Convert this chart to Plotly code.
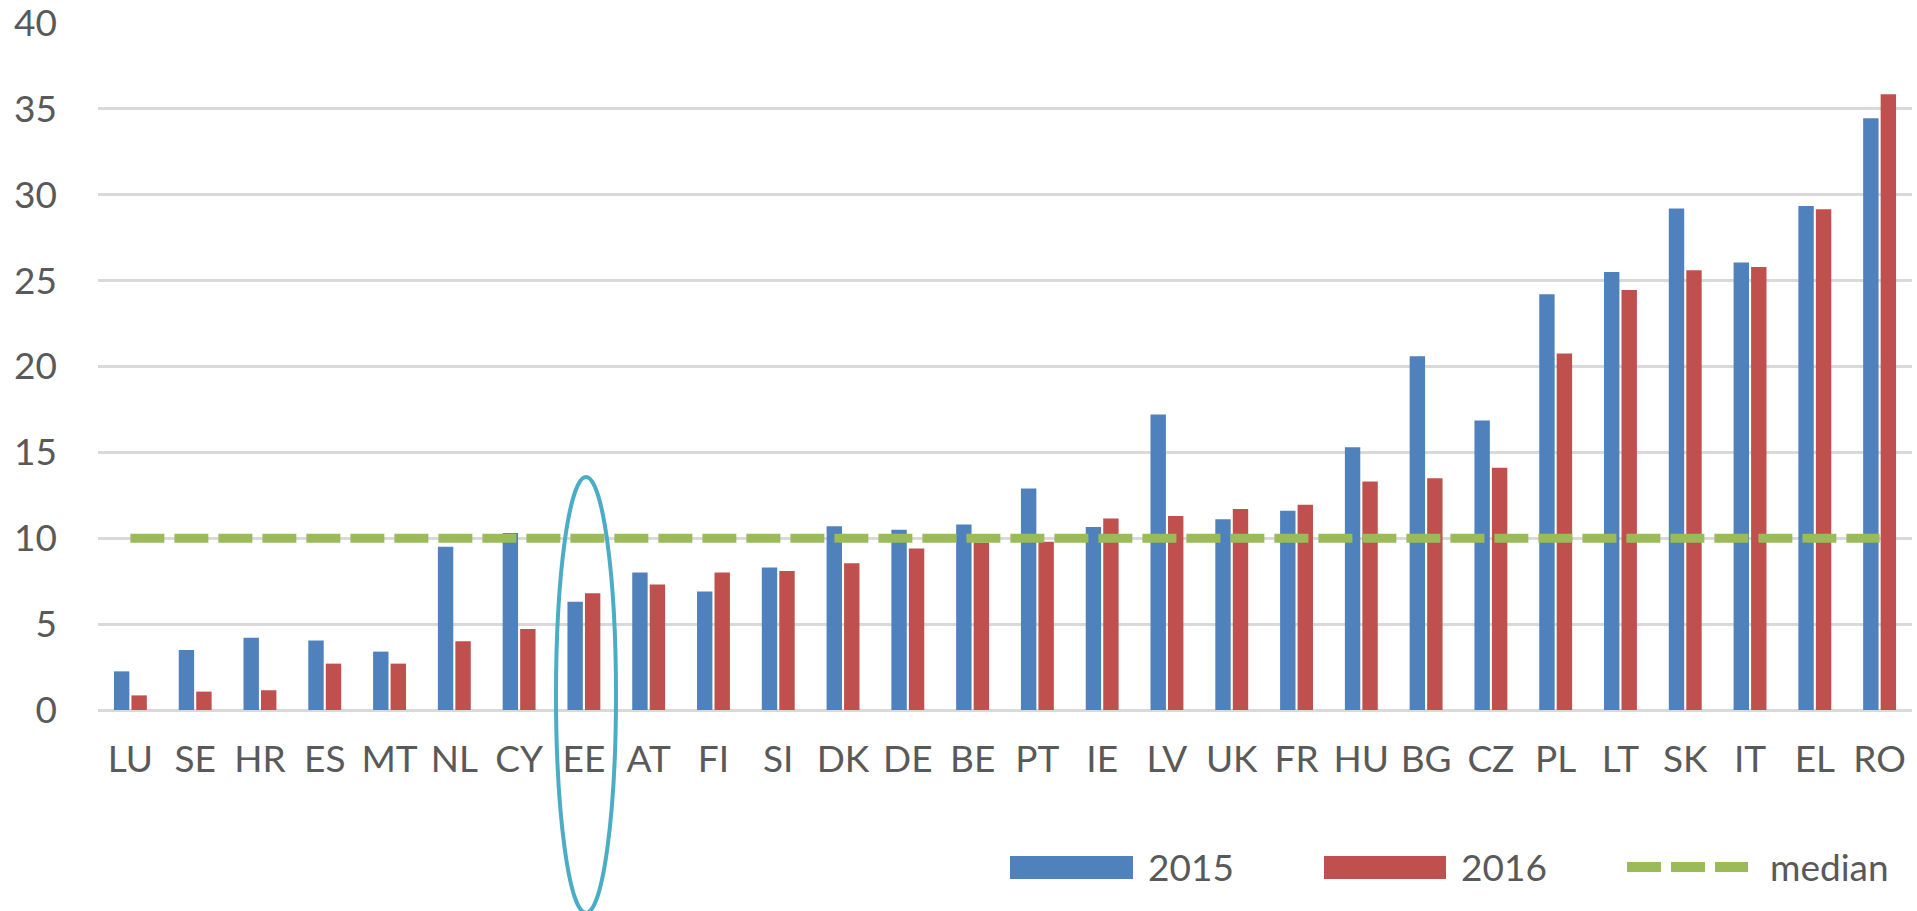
import plotly.graph_objects as go

countries = ["LU", "SE", "HR", "ES", "MT", "NL", "CY", "EE", "AT", "FI", "SI", "DK", "DE", "BE",
             "PT", "IE", "LV", "UK", "FR", "HU", "BG", "CZ", "PL", "LT", "SK", "IT", "EL", "RO"]
values_2015 = [2.25, 3.5, 4.2, 4.05, 3.4, 9.5, 10.3, 6.3, 8.0, 6.9, 8.3, 10.7, 10.5, 10.8,
               12.9, 10.65, 17.2, 11.1, 11.6, 15.3, 20.6, 16.85, 24.2, 25.5, 29.2, 26.05, 29.35, 34.45]
values_2016 = [0.85, 1.07, 1.15, 2.7, 2.7, 4.0, 4.72, 6.8, 7.3, 8.0, 8.1, 8.55, 9.4, 9.75,
               9.8, 11.15, 11.3, 11.7, 11.95, 13.3, 13.5, 14.1, 20.75, 24.45, 25.6, 25.8, 29.15, 35.85]
median_value = 10.0
y_ticks = [0, 5, 10, 15, 20, 25, 30, 35, 40]

BLUE = "#4F81BD"
RED = "#C0504D"
GREEN = "#9BBB59"
TEAL = "#4BACC6"
TEXT = "#595959"
FONT = "Lato"
FSIZE = 37

W, H = 1917, 911
ML, MR, MT, MB = 98, 5, 23, 201
PW = W - ML - MR
PH = H - MT - MB


def px_x(p):
    return (p - ML) / PW


def px_y(p):
    return (H - MB - p) / PH


fig = go.Figure()
fig.add_trace(go.Bar(x=countries, y=values_2015, name="2015", marker_color=BLUE,
                     marker_line_width=0, showlegend=False))
fig.add_trace(go.Bar(x=countries, y=values_2016, name="2016", marker_color=RED,
                     marker_line_width=0, showlegend=False))
fig.add_trace(go.Scatter(x=countries, y=[median_value] * len(countries), name="median",
                         mode="lines", line=dict(color=GREEN, width=9, dash="34px,10px"),
                         showlegend=False))

shapes = [
    # highlight ellipse around EE
    dict(type="circle", xref="paper", yref="paper",
         x0=px_x(556), x1=px_x(616), y0=px_y(913), y1=px_y(477),
         line=dict(color=TEAL, width=4), layer="above"),
    # custom legend swatches
    dict(type="rect", xref="paper", yref="paper",
         x0=px_x(1010), x1=px_x(1133), y0=px_y(879), y1=px_y(856),
         fillcolor=BLUE, line=dict(width=0)),
    dict(type="rect", xref="paper", yref="paper",
         x0=px_x(1324), x1=px_x(1446), y0=px_y(879), y1=px_y(856),
         fillcolor=RED, line=dict(width=0)),
    dict(type="line", xref="paper", yref="paper",
         x0=px_x(1627), x1=px_x(1748), y0=px_y(867), y1=px_y(867),
         line=dict(color=GREEN, width=10, dash="34px,10px")),
]

annotations = [
    dict(text="2015", xref="paper", yref="paper", x=px_x(1146), y=px_y(867),
         xanchor="left", yanchor="middle", showarrow=False,
         font=dict(family=FONT, size=FSIZE, color=TEXT)),
    dict(text="2016", xref="paper", yref="paper", x=px_x(1459), y=px_y(867),
         xanchor="left", yanchor="middle", showarrow=False,
         font=dict(family=FONT, size=FSIZE, color=TEXT)),
    dict(text="median", xref="paper", yref="paper", x=px_x(1768), y=px_y(867),
         xanchor="left", yanchor="middle", showarrow=False,
         font=dict(family=FONT, size=FSIZE, color=TEXT)),
]

fig.update_layout(
    width=W, height=H,
    margin=dict(l=ML, r=MR, t=MT, b=MB, autoexpand=False),
    paper_bgcolor="white", plot_bgcolor="white",
    barmode="group", bargap=0.46, bargroupgap=0.12,
    font=dict(family=FONT, size=FSIZE, color=TEXT),
    shapes=shapes, annotations=annotations,
    showlegend=False,
)
fig.update_xaxes(showgrid=False, showline=False, ticks="", ticklabelstandoff=24,
                 tickfont=dict(family=FONT, size=FSIZE, color=TEXT))
fig.update_yaxes(range=[0, 40], tickvals=y_ticks, showgrid=True, gridcolor="#D9D9D9",
                 gridwidth=3, zeroline=True, zerolinecolor="#D9D9D9", zerolinewidth=3,
                 showline=False, ticks="", ticklabelstandoff=40, ticklabeloverflow="allow",
                 tickfont=dict(family=FONT, size=FSIZE, color=TEXT))

fig.write_html("out.html", config={"displayModeBar": False},
               post_script="document.body.style.margin='0px';document.body.style.overflow='hidden';")
